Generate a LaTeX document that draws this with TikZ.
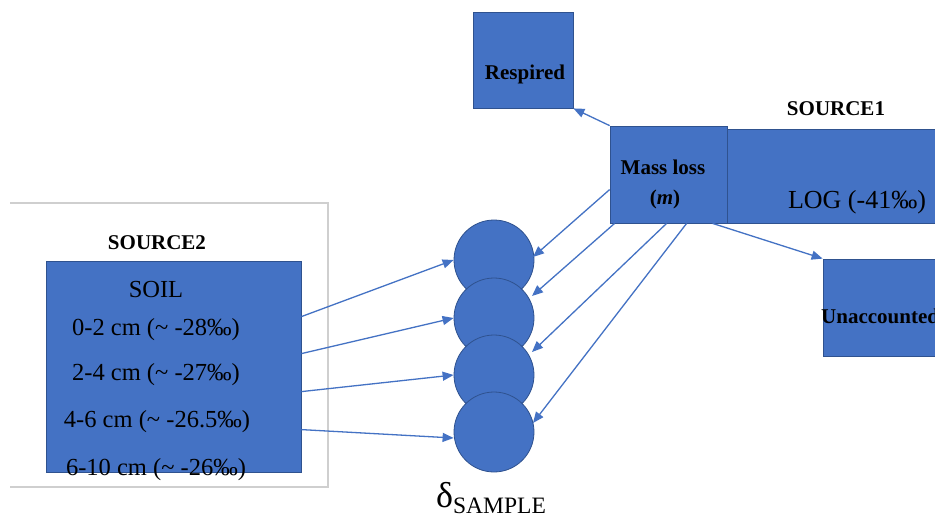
\documentclass[tikz,border=0pt]{standalone}
\usepackage{fontspec}
\setmainfont{Liberation Serif}
\usetikzlibrary{arrows.meta,calc}
\definecolor{ofblue}{HTML}{4472C4}
\definecolor{ofedge}{HTML}{2F528F}
\definecolor{framegray}{HTML}{CFCFCF}
\tikzset{
 box/.style={rectangle, fill=ofblue, draw=ofedge, line width=0.8pt, inner sep=0pt},
 ball/.style={circle, fill=ofblue, draw=ofedge, line width=0.8pt, minimum size=80pt, inner sep=0pt},
 arr/.style={draw=ofblue, line width=1.3pt, -{Triangle[length=11pt,width=9pt]}},
 lbl/.style={inner sep=0pt, anchor=base, text=black},
 boldlbl/.style={lbl, font=\fontsize{21}{24}\selectfont\bfseries},
 soiltxt/.style={lbl, font=\fontsize{24.5}{28}\selectfont},
}
\begin{document}
\begin{tikzpicture}[x=1pt,y=-1pt]
\useasboundingbox (0,0) rectangle (935,517);
\fill[white] (0,0) rectangle (935,517);
% frame around source 2
\draw[framegray, line width=1.2pt] (10,203) -- (328,203) -- (328,487) -- (10,487);
% boxes
\node[box, minimum width=223pt, minimum height=94pt] (log) at (838.5,176) {};
\node[box, minimum width=117pt, minimum height=97pt] (mass) at (668.5,174.5) {};
\node[box, minimum width=100pt, minimum height=96pt] (resp) at (523,60) {};
\node[box, minimum width=127pt, minimum height=97pt] (unacc) at (886.5,307.5) {};
\node[box, minimum width=255pt, minimum height=211pt] (soil) at (173.5,366.5) {};
% circles
\node[ball] (c1) at (494,260) {};
\node[ball] (c2) at (494,318) {};
\node[ball] (c3) at (494,375) {};
\node[ball] (c4) at (494,432) {};
% labels
\node[boldlbl] (src1) at (836,115) {SOURCE1};
\node[boldlbl] (src2) at (157,249) {SOURCE2};
\node[boldlbl] (resptxt) at (525,79) {Respired};
\node[boldlbl] (masstxt) at (663,174) {Mass loss};
\node[boldlbl] (mtxt) at (665,204) {(\textit{m})};
\node[lbl, font=\fontsize{26}{30}\selectfont] (logtxt) at (857,208) {LOG (-41‰)};
\node[boldlbl, anchor=base west] (unacctxt) at (821,323) {Unaccounted};
\node[soiltxt] (soilname) at (156,297) {SOIL};
\node[soiltxt] (s1) at (156,335) {0-2 cm (\textasciitilde\ -28‰)};
\node[soiltxt] (s2) at (156,380) {2-4 cm (\textasciitilde\ -27‰)};
\node[soiltxt] (s3) at (157,427) {4-6 cm (\textasciitilde\ -26.5‰)};
\node[soiltxt] (s4) at (156,475) {6-10 cm (\textasciitilde\ -26‰)};
\node[lbl, anchor=base west] (delta) at (436,507) {\fontsize{36}{40}\selectfont δ\raisebox{-6pt}{\fontsize{23.5}{26}\selectfont SAMPLE}};
% arrows from soil
\draw[arr] ($(soil.north east)+(0,56)$) -- (c1.west);
\draw[arr] ($(soil.north east)+(0,93)$) -- (c2.west);
\draw[arr] ($(soil.north east)+(0,131)$) -- (c3.west);
\draw[arr] ($(soil.north east)+(0,169)$) -- ($(c4.west)+(0,6)$);
% arrows from mass loss
\draw[arr] ($(mass.north west)+(0,64)$) -- ($(c1.center)+(39,-3)$);
\draw[arr] ($(mass.south west)+(5,0)$) -- ($(c2.center)+(38,-22)$);
\draw[arr] ($(mass.south west)+(57,0)$) -- ($(c3.center)+(38,-23)$);
\draw[arr] ($(mass.south west)+(77,0)$) -- ($(c4.center)+(39,-9)$);
\draw[arr] (mass.north west) -- (resp.south east);
\draw[arr] ($(mass.south west)+(103,0)$) -- (unacc.north west);
\end{tikzpicture}
\end{document}
